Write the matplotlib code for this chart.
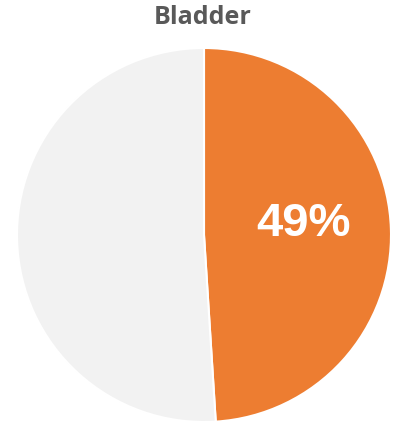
import matplotlib as mpl
mpl.use('Agg')
import matplotlib.pyplot as plt

# Data
categories = ['Bladder', 'Other']
shares = [49, 51]
colors = ['#ED7D31', '#F2F2F2']
title = 'Bladder'

fig = plt.figure(figsize=(3.94, 4.27), dpi=100)
r_px = 187
cx, cy = 204, 427 - 236
ax = fig.add_axes([(cx - r_px) / 394, (cy - r_px) / 427,
                   2 * r_px / 394, 2 * r_px / 427])

wedges, texts, autotexts = ax.pie(
    shares, colors=colors, startangle=90, counterclock=False,
    autopct=lambda p: '%d%%' % round(p) if p < 50 else '',
    pctdistance=0.53,
    wedgeprops=dict(edgecolor='white', linewidth=1.5),
    textprops=dict(color='white', fontsize=34, fontweight='bold',
                   family='Liberation Sans'))
ax.set_xlim(-1, 1)
ax.set_ylim(-1, 1)
ax.set_aspect('auto')
ax.axis('off')

# nudge percentage label slightly up
x, y = autotexts[0].get_position()
autotexts[0].set_position((x, y + 0.05))

fig.text(203 / 394, 1 - 18 / 427, title, ha='center', va='center',
         fontsize=18, fontweight='bold', color='#595959', family='Open Sans')

fig.savefig('out.png', dpi=100)
